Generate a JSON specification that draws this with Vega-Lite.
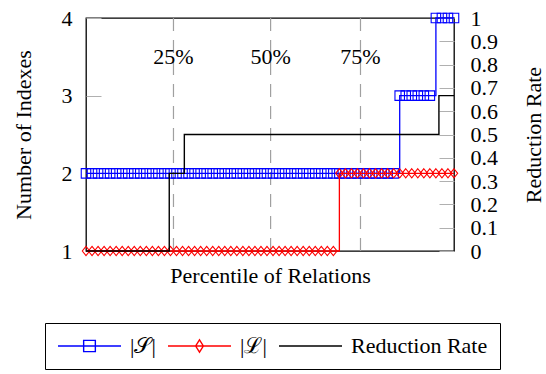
{
  "$schema": "https://vega.github.io/schema/vega-lite/v6.json",
  "width": 368,
  "height": 233,
  "autosize": "none",
  "padding": {"left": 86, "top": 18, "right": 92, "bottom": 123},
  "config": {
    "font": "Liberation Serif",
    "view": {"stroke": "black", "strokeWidth": 1.3},
    "text": {"font": "Liberation Serif"},
    "axis": {"labelFont": "Liberation Serif", "titleFont": "Liberation Serif", "labelFontSize": 22, "titleFontSize": 22, "titleFontWeight": "normal", "labelColor": "black", "titleColor": "black", "grid": false, "domain": false, "labelFlush": false},
    "legend": {"labelFont": "Liberation Serif", "titleFont": "Liberation Serif"}
  },
  "datasets": {
    "counts": [
      {"i":0,"S":2,"L":1},{"i":1,"S":2,"L":1},{"i":2,"S":2,"L":1},{"i":3,"S":2,"L":1},{"i":4,"S":2,"L":1},{"i":5,"S":2,"L":1},{"i":6,"S":2,"L":1},{"i":7,"S":2,"L":1},{"i":8,"S":2,"L":1},{"i":9,"S":2,"L":1},
      {"i":10,"S":2,"L":1},{"i":11,"S":2,"L":1},{"i":12,"S":2,"L":1},{"i":13,"S":2,"L":1},{"i":14,"S":2,"L":1},{"i":15,"S":2,"L":1},{"i":16,"S":2,"L":1},{"i":17,"S":2,"L":1},{"i":18,"S":2,"L":1},{"i":19,"S":2,"L":1},
      {"i":20,"S":2,"L":1},{"i":21,"S":2,"L":1},{"i":22,"S":2,"L":1},{"i":23,"S":2,"L":1},{"i":24,"S":2,"L":1},{"i":25,"S":2,"L":1},{"i":26,"S":2,"L":1},{"i":27,"S":2,"L":1},{"i":28,"S":2,"L":1},{"i":29,"S":2,"L":1},
      {"i":30,"S":2,"L":1},{"i":31,"S":2,"L":1},{"i":32,"S":2,"L":1},{"i":33,"S":2,"L":1},{"i":34,"S":2,"L":1},{"i":35,"S":2,"L":1},{"i":36,"S":2,"L":1},{"i":37,"S":2,"L":1},{"i":38,"S":2,"L":1},{"i":39,"S":2,"L":1},
      {"i":40,"S":2,"L":1},{"i":41,"S":2,"L":1},{"i":42,"S":2,"L":2},{"i":43,"S":2,"L":2},{"i":44,"S":2,"L":2},{"i":45,"S":2,"L":2},{"i":46,"S":2,"L":2},{"i":47,"S":2,"L":2},{"i":48,"S":2,"L":2},{"i":49,"S":2,"L":2},
      {"i":50,"S":2,"L":2},{"i":51,"S":2,"L":2},{"i":52,"S":3,"L":2},{"i":53,"S":3,"L":2},{"i":54,"S":3,"L":2},{"i":55,"S":3,"L":2},{"i":56,"S":3,"L":2},{"i":57,"S":3,"L":2},{"i":58,"S":4,"L":2},{"i":59,"S":4,"L":2},
      {"i":60,"S":4,"L":2},{"i":61,"S":4,"L":2}
    ],
    "rate": [
      {"x":0,"r":0},{"x":13.8,"r":0.333},{"x":16.3,"r":0.5},{"x":58.5,"r":0.667},{"x":61,"r":0.667}
    ],
    "quart": [
      {"q":14.5,"label":"25%"},{"q":30.6,"label":"50%"},{"q":45.5,"label":"75%"}
    ],
    "legend": [
      {"series":"|𝒮|"},{"series":"|ℒ|"},{"series":"Reduction Rate"}
    ]
  },
  "layer": [
    {
      "layer": [
        {
          "data": {"name": "quart"},
          "mark": {"type": "rule", "color": "#a0a0a0", "strokeDash": [13, 9], "strokeWidth": 1.2},
          "encoding": {
            "x": {"field": "q", "type": "quantitative", "scale": {"domain": [0, 61], "nice": false, "zero": false},
                  "axis": {"title": "Percentile of Relations", "titleFont": "Liberation Serif", "labels": false, "ticks": false, "titlePadding": 14}}
          }
        },
        {
          "data": {"name": "quart"},
          "mark": {"type": "text", "font": "Liberation Serif", "fontSize": 22, "baseline": "middle", "align": "center", "color": "black"},
          "encoding": {
            "x": {"field": "q", "type": "quantitative"},
            "y": {"datum": 3.5, "type": "quantitative"},
            "text": {"field": "label"}
          }
        },
        {
          "data": {"name": "counts"},
          "mark": {"type": "line", "interpolate": "step-after", "color": "#0000ff", "strokeWidth": 1.3,
                   "point": {"shape": "square", "filled": false, "size": 90, "color": "#0000ff", "strokeWidth": 1.1}},
          "encoding": {
            "x": {"field": "i", "type": "quantitative"},
            "y": {"field": "S", "type": "quantitative", "scale": {"domain": [1, 4], "nice": false, "zero": false},
                  "axis": {"title": "Number of Indexes", "titleFont": "Liberation Serif", "values": [1, 2, 3, 4], "format": "d", "tickSize": -15, "tickColor": "#b0b0b0", "tickWidth": 1, "labelPadding": 29, "titlePadding": 26}}
          }
        },
        {
          "data": {"name": "counts"},
          "mark": {"type": "line", "interpolate": "step-after", "color": "#ff0000", "strokeWidth": 1.3,
                   "point": {"shape": "M0,-1L0.8,0L0,1L-0.8,0Z", "filled": false, "size": 85, "color": "#ff0000", "strokeWidth": 1.1}},
          "encoding": {
            "x": {"field": "i", "type": "quantitative"},
            "y": {"field": "L", "type": "quantitative"}
          }
        },
        {
          "data": {"name": "legend"},
          "mark": {"type": "point", "filled": false, "opacity": 0},
          "encoding": {
            "color": {"field": "series", "type": "nominal",
                      "scale": {"domain": ["|𝒮|", "|ℒ|", "Reduction Rate"], "range": ["#0000ff", "#ff0000", "#000000"]},
                      "legend": {"title": null, "orient": "none", "legendX": -41, "legendY": 305, "direction": "horizontal", "columns": 3,
                                 "labelFont": "Liberation Serif", "labelFontSize": 22, "labelColor": "black", "symbolSize": 400, "symbolStrokeWidth": 1.4,
                                 "labelOffset": 51, "columnPadding": 9, "padding": 12, "strokeColor": "black", "fillColor": "white", "cornerRadius": 0}},
            "shape": {"field": "series", "type": "nominal",
                      "scale": {"domain": ["|𝒮|", "|ℒ|", "Reduction Rate"],
                                "range": ["M-1,0H5.3M1.565,-0.56H2.735V0.56H1.565Z", "M-1,0H5.3M2.15,-0.62L2.535,0L2.15,0.62L1.765,0Z", "M-1,0H5.3"]},
                      "legend": {"title": null}}
          }
        }
      ]
    },
    {
      "data": {"name": "rate"},
      "mark": {"type": "line", "interpolate": "step-after", "color": "#000000", "strokeWidth": 1.4},
      "encoding": {
        "x": {"field": "x", "type": "quantitative"},
        "y": {"field": "r", "type": "quantitative", "scale": {"domain": [0, 1], "nice": false, "zero": false},
              "axis": {"orient": "right", "title": "Reduction Rate", "titleFont": "Liberation Serif", "titleAngle": 270, "values": [0, 0.1, 0.2, 0.3, 0.4, 0.5, 0.6, 0.7, 0.8, 0.9, 1], "format": "~g",
                       "tickSize": -15, "tickColor": "#b0b0b0", "tickWidth": 1, "labelPadding": 31, "titlePadding": 48}}
      }
    }
  ],
  "resolve": {"scale": {"y": "independent"}}
}
